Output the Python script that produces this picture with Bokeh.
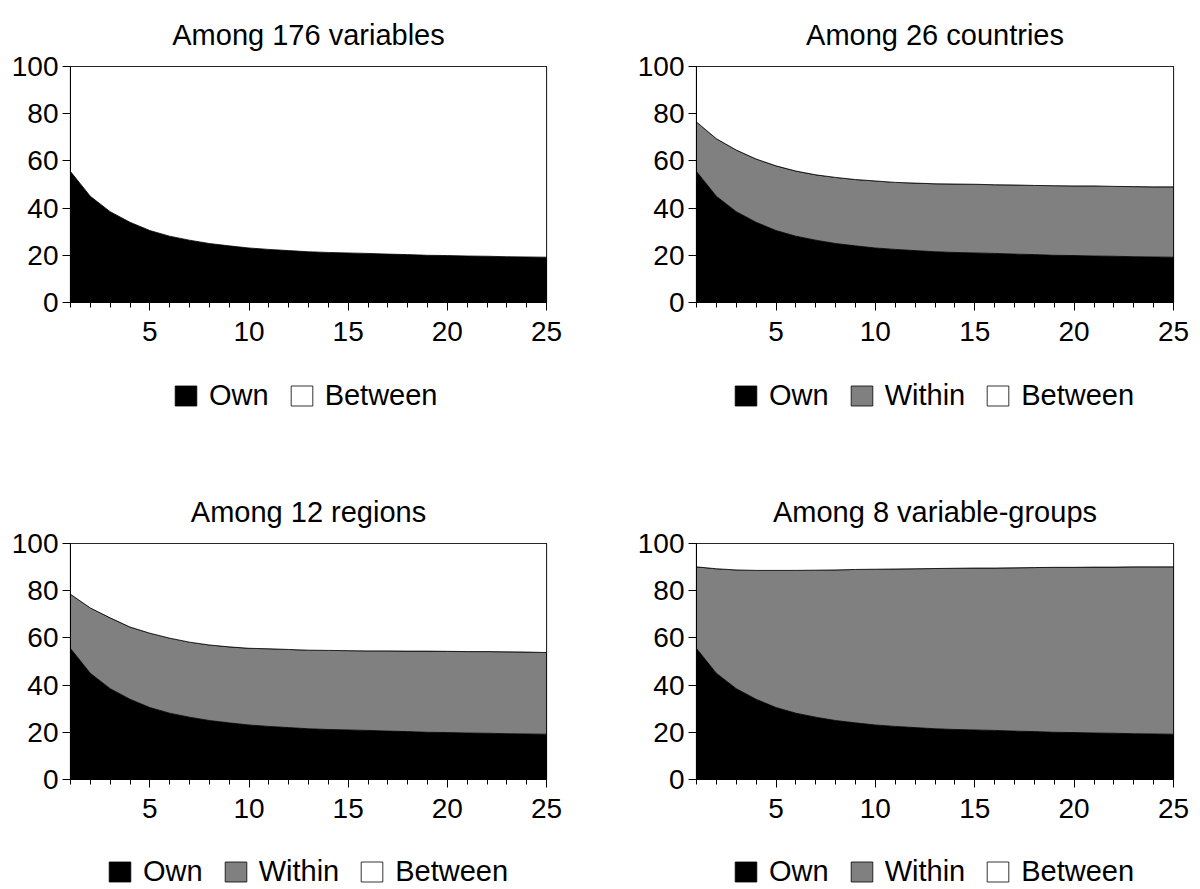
from bokeh.plotting import figure
from bokeh.layouts import column, row
from bokeh.models import Legend, LegendItem, FixedTicker, Range1d
from bokeh.embed import file_html
from bokeh.resources import INLINE

steps = list(range(1, 26))

own = [55.5, 45.0, 38.5, 34.0, 30.5, 28.1, 26.4, 25.0, 24.0, 23.1, 22.5, 22.0, 21.5,
       21.2, 21.0, 20.8, 20.5, 20.3, 20.0, 19.9, 19.7, 19.6, 19.4, 19.3, 19.2]

within_countries = [21.0, 24.4, 26.1, 26.8, 27.4, 27.6, 27.7, 28.0, 28.1, 28.4, 28.4, 28.6, 28.8,
                    29.0, 29.1, 29.1, 29.3, 29.3, 29.5, 29.5, 29.7, 29.6, 29.7, 29.7, 29.8]

within_regions = [23.0, 27.7, 30.0, 30.6, 31.5, 31.8, 31.8, 32.0, 32.2, 32.5, 32.9, 33.1, 33.3,
                  33.5, 33.6, 33.7, 34.0, 34.1, 34.4, 34.4, 34.5, 34.6, 34.7, 34.7, 34.6]

within_groups = [34.6, 44.3, 50.3, 54.6, 58.1, 60.5, 62.3, 63.8, 65.0, 66.0, 66.7, 67.3, 67.9,
                 68.3, 68.6, 68.8, 69.2, 69.5, 69.9, 70.0, 70.3, 70.4, 70.7, 70.8, 70.9]

titles = ["Among 176 variables", "Among 26 countries", "Among 12 regions", "Among 8 variable-groups"]
labels = ["Own", "Within", "Between"]
y_ticks = [0, 20, 40, 60, 80, 100]
x_major = [5, 10, 15, 20, 25]

FONT = "Liberation Sans"
COLORS = ["black", "#808080", "white"]


def add_areas(p, within):
    n = len(steps)
    xs = steps + steps[::-1]
    rs = []
    rs.append(p.patch(xs, own + [0] * n, fill_color=COLORS[0], line_color="black", line_width=0.8))
    top = own
    if within is not None:
        cum = [a + b for a, b in zip(own, within)]
        rs.append(p.patch(xs, cum + own[::-1], fill_color=COLORS[1], line_color="black", line_width=0.8))
        top = cum
    rs.append(p.patch(xs, [100] * n + top[::-1], fill_color=COLORS[2], line_color="black", line_width=0.8))
    return rs


def panel(title, within, left_col, leg_h, leg_center_from_top):
    bl, br = (70, 54) if left_col else (96, 27)
    p = figure(width=600, height=360, output_backend="svg", toolbar_location=None,
               x_range=Range1d(1, 25), y_range=Range1d(0, 100),
               min_border_left=bl, min_border_right=br, min_border_top=66,
               min_border_bottom=58)
    p.title.text = title
    p.title.align = "center"
    p.title.text_font = FONT
    p.title.text_font_size = "29px"
    p.title.text_font_style = "normal"
    p.title.text_color = "black"
    p.title.standoff = 31
    p.grid.visible = False
    p.outline_line_color = "black"
    p.outline_line_width = 1.2
    p.background_fill_color = "white"
    p.border_fill_color = "white"
    add_areas(p, within)

    for ax in (p.xaxis[0], p.yaxis[0]):
        ax.axis_line_color = "black"
        ax.major_tick_line_color = "black"
        ax.minor_tick_line_color = "black"
        ax.major_label_text_font = FONT
        ax.major_label_text_font_size = "28px"
        ax.major_label_text_color = "black"
        ax.major_tick_in = 0
        ax.minor_tick_in = 0
    p.yaxis[0].ticker = FixedTicker(ticks=y_ticks)
    p.yaxis[0].major_tick_out = 8
    p.yaxis[0].minor_tick_out = 0
    p.yaxis[0].major_label_standoff = 4
    p.xaxis[0].ticker = FixedTicker(ticks=x_major, minor_ticks=steps)
    p.xaxis[0].major_tick_out = 8
    p.xaxis[0].minor_tick_out = 5
    p.xaxis[0].major_label_standoff = 11

    # legend strip below the panel
    q = figure(width=600, height=leg_h, output_backend="svg", toolbar_location=None,
               x_range=Range1d(1, 25), y_range=Range1d(200, 300),
               min_border=0, min_border_left=0, min_border_right=0,
               min_border_top=0, min_border_bottom=0)
    q.axis.visible = False
    q.grid.visible = False
    q.outline_line_color = None
    q.background_fill_color = "white"
    q.border_fill_color = "white"
    rs = add_areas(q, within)
    names = labels if within is not None else [labels[0], labels[2]]
    items = [LegendItem(label=nm, renderers=[r]) for nm, r in zip(names, rs)]
    gh = 25
    x0 = 102 if within is None else 36
    y0 = leg_h - leg_center_from_top - gh / 2
    leg = Legend(items=items, orientation="horizontal", location=(x0, y0))
    leg.label_text_font = FONT
    leg.label_text_font_size = "29px"
    leg.label_text_color = "black"
    leg.label_text_baseline = "middle"
    leg.glyph_width = 27
    leg.glyph_height = gh
    leg.label_standoff = 10
    leg.spacing = 19
    leg.border_line_color = None
    leg.background_fill_alpha = 0
    leg.margin = 0
    leg.padding = 0
    q.add_layout(leg)
    return column(p, q, spacing=0)


c1 = panel(titles[0], None, True, 117, 39)
c2 = panel(titles[1], within_countries, False, 117, 39)
c3 = panel(titles[2], within_regions, True, 52, 38)
c4 = panel(titles[3], within_groups, False, 52, 38)

layout = column(row(c1, c2, spacing=0), row(c3, c4, spacing=0), spacing=0)
open("out.html", "w").write(file_html(layout, INLINE))
